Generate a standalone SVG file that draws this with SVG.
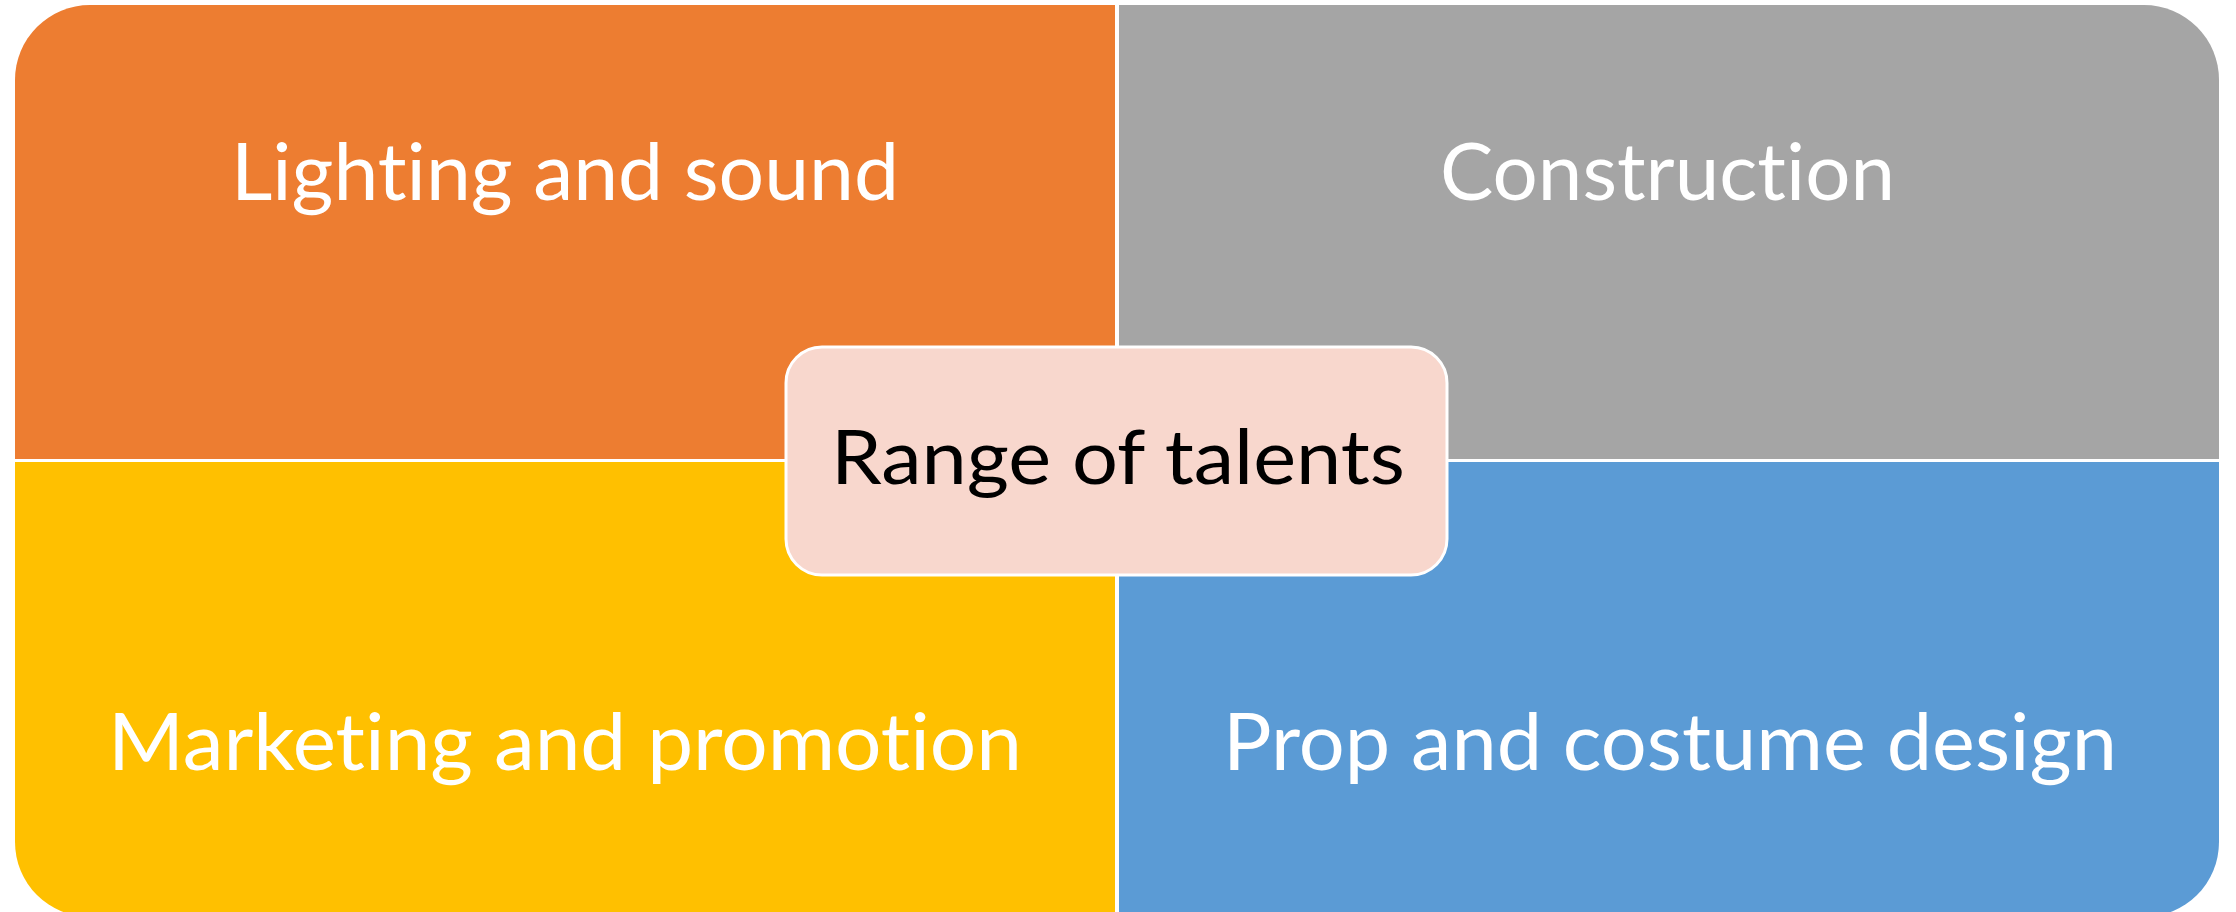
<svg xmlns="http://www.w3.org/2000/svg" width="2236" height="912" viewBox="0 0 2236 912">
  <style>
    text { font-variant-ligatures: none; font-feature-settings: "liga" 0, "dlig" 0, "clig" 0; }
    .lbl { font-family: Lato, "Open Sans", "Liberation Sans", sans-serif; font-size: 80px; fill: #FFFFFF; }
    .center { font-family: Lato, "Open Sans", "Liberation Sans", sans-serif; font-size: 75px; fill: #000000; }
  </style>
  <rect width="2236" height="912" fill="#FFFFFF"/>
  <g id="lighting">
    <path d="M15,459 V80 A75,75 0 0 1 90,5 H1115 V459 Z" fill="#ED7D31"/>
    <text class="lbl" x="231" y="200" textLength="668" lengthAdjust="spacingAndGlyphs">Lighting and sound</text>
  </g>
  <g id="construction">
    <path d="M1119,5 H2144 A75,75 0 0 1 2219,80 V459 H1119 Z" fill="#A5A5A5"/>
    <text class="lbl" x="1440" y="200" textLength="455" lengthAdjust="spacingAndGlyphs">Construction</text>
  </g>
  <g id="marketing">
    <path d="M15,462 H1115 V917 H90 A75,75 0 0 1 15,842 Z" fill="#FFC000"/>
    <text class="lbl" x="108" y="770" textLength="914" lengthAdjust="spacingAndGlyphs">Marketing and promotion</text>
  </g>
  <g id="prop">
    <path d="M1119,462 H2219 V842 A75,75 0 0 1 2144,917 H1119 Z" fill="#5B9BD5"/>
    <text class="lbl" x="1223" y="770" textLength="894" lengthAdjust="spacingAndGlyphs">Prop and costume design</text>
  </g>
  <g id="connectors"/>
  <g id="range">
    <rect x="786" y="347" width="661" height="228" rx="36" ry="36" fill="#F8D7CD" stroke="#FFFFFF" stroke-width="3"/>
    <text class="center" x="831" y="484" textLength="574" lengthAdjust="spacingAndGlyphs">Range of talents</text>
  </g>
</svg>
